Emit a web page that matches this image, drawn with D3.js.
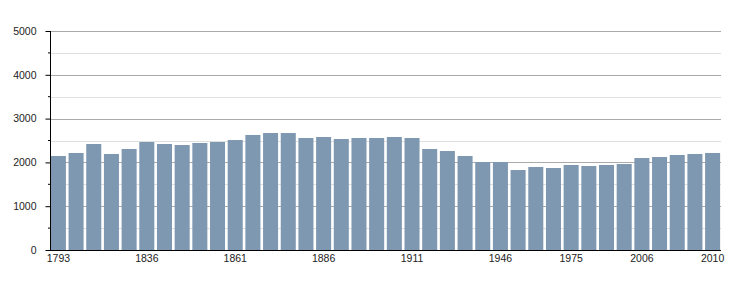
<!DOCTYPE html>
<html>
<head>
<meta charset="utf-8">
<script src="https://cdn.jsdelivr.net/npm/d3@7"></script>
<style>
  body { margin: 0; background: #fff; }
  svg text { font-family: "Liberation Sans", Arial, sans-serif; font-size: 10.5px; fill: #222; }
</style>
</head>
<body>
<div id="chart"></div>
<script>
// census years and population
const years = [1793, 1800, 1806, 1821, 1831, 1836, 1841, 1846, 1851, 1856,
  1861, 1866, 1872, 1876, 1881, 1886, 1891, 1896, 1901, 1906,
  1911, 1921, 1926, 1931, 1936, 1946, 1954, 1962, 1968, 1975,
  1982, 1990, 1999, 2006, 2007, 2008, 2009, 2010];
const population = [2146, 2215, 2420, 2192, 2306, 2466, 2420, 2397, 2443, 2466,
  2511, 2626, 2671, 2671, 2557, 2580, 2534, 2557, 2557, 2580,
  2557, 2306, 2260, 2146, 2009, 2009, 1826, 1895, 1872, 1941,
  1918, 1941, 1963, 2100, 2123, 2169, 2192, 2215];
const shownYears = [1793, 1836, 1861, 1886, 1911, 1946, 1975, 2006, 2010];
const majorTicks = [0, 1000, 2000, 3000, 4000, 5000];
const minorTicks = [500, 1500, 2500, 3500, 4500];

const width = 750, height = 300;
const plotLeft = 50, plotRight = 721, plotTop = 31, plotBottom = 250;

const svg = d3.select('#chart').append('svg')
  .attr('width', width).attr('height', height);

const x = d3.scaleBand()
  .domain(years)
  .range([plotLeft, plotRight])
  .paddingInner(0.15)
  .paddingOuter(0.05);

const y = d3.scaleLinear()
  .domain([0, 5000])
  .range([plotBottom, plotTop]);

// grid lines
svg.append('g').selectAll('line')
  .data(minorTicks).join('line')
  .attr('x1', plotLeft).attr('x2', plotRight)
  .attr('y1', d => Math.round(y(d)) + 0.5).attr('y2', d => Math.round(y(d)) + 0.5)
  .attr('stroke', '#e0e0e0');

svg.append('g').selectAll('line')
  .data(majorTicks.filter(d => d > 0)).join('line')
  .attr('x1', plotLeft).attr('x2', plotRight)
  .attr('y1', d => Math.round(y(d)) + 0.5).attr('y2', d => Math.round(y(d)) + 0.5)
  .attr('stroke', '#aaaaaa');

// bars
svg.append('g').selectAll('rect')
  .data(years).join('rect')
  .attr('x', d => x(d))
  .attr('width', x.bandwidth())
  .attr('y', (d, i) => y(population[i]))
  .attr('height', (d, i) => y(0) - y(population[i]))
  .attr('fill', '#7f98b1');

// y axis
const yAxis = svg.append('g')
  .attr('transform', `translate(${plotLeft + 0.5},0)`)
  .call(d3.axisLeft(y).tickValues(majorTicks).tickSize(5).tickPadding(9).tickFormat(d3.format('d')));
yAxis.append('g').selectAll('line')
  .data(minorTicks).join('line')
  .attr('x1', -2.5).attr('x2', 0)
  .attr('y1', d => y(d)).attr('y2', d => y(d))
  .attr('stroke', '#000');
yAxis.select('.domain').attr('d', `M0,${plotTop}V${plotBottom}`);

// x axis
const xAxis = svg.append('g')
  .attr('transform', `translate(0,${plotBottom + 0.5})`)
  .call(d3.axisBottom(x).tickValues(shownYears).tickSize(0).tickPadding(4));
xAxis.select('.domain').attr('d', `M${plotLeft},0H${plotRight}`);

svg.selectAll('.domain').attr('stroke', '#000');
svg.selectAll('.tick text').attr('fill', '#222').style('font-size', '10.5px');
</script>
</body>
</html>
